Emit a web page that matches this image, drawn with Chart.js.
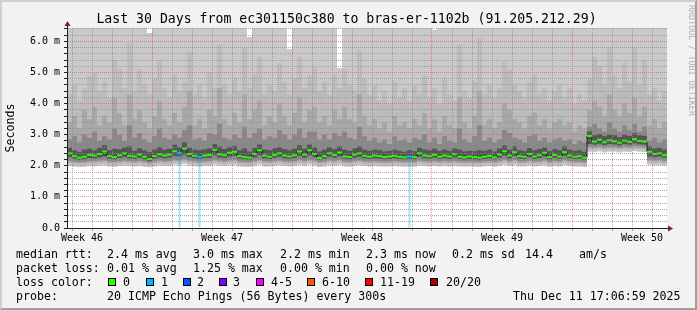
<!DOCTYPE html>
<html>
<head>
<meta charset="utf-8">
<script src="https://cdn.jsdelivr.net/npm/chart.js@4.4.1/dist/chart.umd.min.js"></script>
<style>
    html, body { margin: 0; padding: 0; }
    body {
        width: 697px; height: 310px; position: relative; overflow: hidden;
        background: #f2f2f2; color: #000;
        font-family: "DejaVu Sans Mono", monospace;
    }
    #chart { position: absolute; left: 0; top: 0; }
    .frame {
        position: absolute; left: 0; top: 0; width: 697px; height: 310px;
        box-sizing: border-box; border: 2px solid;
        border-color: #cfcfcf #9e9e9e #9e9e9e #cfcfcf; pointer-events: none;
    }
    .title { position: absolute; left: 0; width: 693px; top: 11px; text-align: center; font-size: 13.2px; line-height: 16px; white-space: pre; }
    .mark { position: absolute; left: 696px; top: 5px; font-size: 8.4px; line-height: 9px; color: rgba(0,0,0,0.3); white-space: pre; transform: rotate(90deg); transform-origin: 0 0; }
    .t { position: absolute; font-size: 11.6px; line-height: 14px; white-space: pre; }
    .box { position: absolute; width: 6px; height: 6px; border: 1px solid #000; }
</style>
</head>
<body>
<canvas id="chart" width="697" height="310"></canvas>
<div class="title">Last 30 Days from ec301150c380 to bras-er-1102b (91.205.212.29)</div>
<div class="mark">RRDTOOL / TOBI OETIKER</div>
<div id="legend"></div>
<div class="frame"></div>
<script>
// 120 columns, 6 hours each, over the last 30 days (values in ms)
const medianRtt = [
    2.40, 2.31, 2.26, 2.29, 2.35, 2.33, 2.38, 2.46, 2.31, 2.28,
    2.34, 2.40, 2.32, 2.30, 2.36, 2.29, 2.22, 2.31, 2.37, 2.33,
    2.36, 2.47, 2.42, 2.55, 2.38, 2.32, 2.29, 2.33, 2.35, 2.51,
    2.37, 2.34, 2.42, 2.45, 2.31, 2.28, 2.26, 2.38, 2.50, 2.33,
    2.29, 2.35, 2.40, 2.33, 2.30, 2.34, 2.46, 2.36, 2.50, 2.38,
    2.25, 2.31, 2.40, 2.35, 2.43, 2.30, 2.28, 2.36, 2.40, 2.32,
    2.29, 2.33, 2.31, 2.28, 2.30, 2.32, 2.29, 2.27, 2.30, 2.28,
    2.40, 2.33, 2.31, 2.35, 2.29, 2.33, 2.30, 2.37, 2.29, 2.27,
    2.30, 2.28, 2.26, 2.29, 2.32, 2.27, 2.36, 2.47, 2.33, 2.44,
    2.31, 2.29, 2.38, 2.30, 2.34, 2.42, 2.28, 2.35, 2.30, 2.44,
    2.33, 2.29, 2.31, 2.26, 2.96, 2.78, 2.84, 2.76, 2.82, 2.79,
    2.74, 2.81, 2.77, 2.86, 2.80, 2.78, 2.45, 2.38, 2.40, 2.34
]
const lossCount = [
    0, 0, 0, 0, 0, 0, 0, 0, 0, 0,  0, 0, 0, 0, 0, 0, 0, 0, 0, 0,
    0, 0, 1, 0, 0, 0, 1, 0, 0, 0,  0, 0, 0, 0, 0, 0, 0, 0, 0, 0,
    0, 0, 0, 0, 0, 0, 0, 0, 0, 0,  0, 0, 0, 0, 0, 0, 0, 0, 0, 0,
    0, 0, 0, 0, 0, 0, 0, 0, 1, 0,  0, 0, 0, 0, 0, 0, 0, 0, 0, 0,
    0, 0, 0, 0, 0, 0, 0, 0, 0, 0,  0, 0, 0, 0, 0, 0, 0, 0, 0, 0,
    0, 0, 0, 0, 0, 0, 0, 0, 0, 0,  0, 0, 0, 0, 0, 0, 0, 0, 0, 0
]
const minRtt = [
    1.99, 1.98, 1.96, 1.97, 1.99, 1.98, 2.00, 2.01, 1.98, 1.97,
    1.99, 2.00, 1.99, 1.98, 1.99, 1.97, 1.95, 1.98, 2.00, 1.99,
    1.99, 2.03, 2.01, 2.05, 2.00, 1.99, 1.97, 1.99, 1.99, 2.03,
    2.00, 1.99, 2.01, 2.02, 1.98, 1.97, 1.96, 1.99, 2.03, 1.98,
    1.98, 1.99, 2.01, 1.99, 1.98, 1.99, 2.02, 1.99, 2.03, 2.00,
    1.96, 1.98, 2.01, 1.99, 2.02, 1.98, 1.97, 1.99, 2.01, 1.99,
    1.98, 1.99, 1.98, 1.97, 1.98, 1.99, 1.98, 1.97, 1.98, 1.97,
    2.00, 1.99, 1.98, 1.99, 1.98, 1.99, 1.98, 1.99, 1.98, 1.97,
    1.98, 1.97, 1.96, 1.98, 1.99, 1.97, 1.99, 2.03, 1.99, 2.02,
    1.98, 1.98, 2.00, 1.98, 1.99, 2.01, 1.97, 1.99, 1.98, 2.02,
    1.99, 1.98, 1.98, 1.96, 2.45, 2.44, 2.46, 2.43, 2.45, 2.45,
    2.43, 2.45, 2.44, 2.47, 2.45, 2.44, 2.03, 2.01, 2.02, 2.00
]
const maxRtt = [
    6.5, 6.5, 6.5, 6.5, 6.5, 6.5, 6.5, 6.5, 6.5, 6.5,
    6.5, 6.5, 6.5, 6.5, 6.5, 6.5, 6.27, 6.5, 6.5, 6.5,
    6.5, 6.5, 6.5, 6.5, 6.5, 6.5, 6.5, 6.5, 6.5, 6.5,
    6.5, 6.5, 6.5, 6.5, 6.5, 6.5, 6.14, 6.5, 6.5, 6.5,
    6.5, 6.5, 6.5, 6.5, 5.75, 6.5, 6.5, 6.5, 6.5, 6.5,
    6.5, 6.5, 6.5, 6.5, 5.14, 6.5, 6.5, 6.5, 6.5, 6.5,
    6.5, 6.5, 6.5, 6.5, 6.5, 6.5, 6.5, 6.5, 6.5, 6.5,
    6.5, 6.5, 6.5, 6.37, 6.5, 6.5, 6.5, 6.5, 6.5, 6.5,
    6.5, 6.5, 6.5, 6.5, 6.5, 6.5, 6.5, 6.5, 6.5, 6.5,
    6.5, 6.5, 6.5, 6.5, 6.5, 6.5, 6.5, 6.5, 6.5, 6.5,
    6.5, 6.5, 6.5, 6.5, 6.5, 6.5, 6.5, 6.5, 6.5, 6.5,
    6.5, 6.5, 6.5, 6.5, 6.5, 6.5, 6.5, 6.5, 6.5, 6.5
]
const p10Lo = [
    2.05, 2.04, 2.02, 2.03, 2.05, 2.04, 2.06, 2.07, 2.04, 2.03,
    2.05, 2.06, 2.05, 2.04, 2.05, 2.03, 2.01, 2.04, 2.06, 2.05,
    2.05, 2.09, 2.07, 2.11, 2.06, 2.05, 2.03, 2.05, 2.05, 2.09,
    2.06, 2.05, 2.07, 2.08, 2.04, 2.03, 2.02, 2.05, 2.09, 2.04,
    2.04, 2.05, 2.07, 2.05, 2.04, 2.05, 2.08, 2.05, 2.09, 2.06,
    2.02, 2.04, 2.07, 2.05, 2.08, 2.04, 2.03, 2.05, 2.07, 2.05,
    2.04, 2.05, 2.04, 2.03, 2.04, 2.05, 2.04, 2.03, 2.04, 2.03,
    2.06, 2.05, 2.04, 2.05, 2.04, 2.05, 2.04, 2.05, 2.04, 2.03,
    2.04, 2.03, 2.02, 2.04, 2.05, 2.03, 2.05, 2.09, 2.05, 2.08,
    2.04, 2.04, 2.06, 2.04, 2.05, 2.07, 2.03, 2.05, 2.04, 2.08,
    2.05, 2.04, 2.04, 2.02, 2.51, 2.50, 2.52, 2.49, 2.51, 2.51,
    2.49, 2.51, 2.50, 2.53, 2.51, 2.50, 2.09, 2.07, 2.08, 2.06
]
const p90Hi = [
    4.3, 4.6, 4.1, 4.5, 4.9, 5.0, 4.4, 4.7, 4.2, 5.4,
    5.1, 4.5, 5.95, 4.4, 5.1, 4.6, 4.3, 4.8, 5.4, 4.5,
    4.2, 4.9, 4.4, 4.7, 5.65, 4.3, 4.6, 4.2, 5.0, 4.5,
    5.9, 4.6, 4.3, 4.8, 4.4, 5.8, 4.5, 4.9, 5.5, 4.3,
    4.6, 4.4, 5.3, 4.7, 4.3, 4.8, 5.5, 4.5, 4.9, 5.2,
    4.4, 4.7, 4.3, 4.9, 4.5, 5.1, 4.6, 4.4, 5.7, 4.8,
    4.3, 4.6, 4.1, 4.4, 4.0, 4.7, 4.2, 4.5, 4.1, 4.6,
    4.3, 4.9, 4.2, 4.5, 4.0, 4.8, 4.3, 4.1, 5.9, 4.4,
    4.2, 4.7, 6.1, 4.3, 4.6, 4.2, 4.5, 5.35, 5.1, 4.6,
    4.4, 4.2, 4.7, 4.9, 4.3, 4.5, 4.1, 4.4, 4.6, 4.2,
    4.5, 4.0, 4.3, 4.1, 4.8, 5.5, 5.2, 4.6, 5.8, 4.9,
    4.5, 5.3, 4.7, 5.8, 4.6, 5.4, 4.3, 4.5, 4.1, 4.4
]
const p25Lo = [
    2.11, 2.09, 2.07, 2.08, 2.10, 2.10, 2.12, 2.13, 2.09, 2.08,
    2.10, 2.12, 2.10, 2.09, 2.11, 2.08, 2.05, 2.09, 2.12, 2.10,
    2.11, 2.15, 2.13, 2.17, 2.12, 2.10, 2.08, 2.10, 2.11, 2.15,
    2.12, 2.10, 2.13, 2.14, 2.09, 2.08, 2.07, 2.11, 2.15, 2.10,
    2.09, 2.11, 2.13, 2.10, 2.09, 2.10, 2.14, 2.11, 2.15, 2.12,
    2.07, 2.09, 2.13, 2.11, 2.14, 2.09, 2.08, 2.11, 2.13, 2.10,
    2.09, 2.10, 2.09, 2.08, 2.09, 2.10, 2.09, 2.08, 2.09, 2.08,
    2.12, 2.10, 2.09, 2.11, 2.09, 2.10, 2.09, 2.11, 2.09, 2.08,
    2.09, 2.08, 2.07, 2.09, 2.10, 2.08, 2.11, 2.15, 2.10, 2.14,
    2.09, 2.09, 2.12, 2.09, 2.10, 2.13, 2.08, 2.11, 2.09, 2.14,
    2.10, 2.09, 2.09, 2.07, 2.57, 2.56, 2.58, 2.55, 2.57, 2.57,
    2.54, 2.57, 2.56, 2.59, 2.57, 2.56, 2.15, 2.13, 2.14, 2.11
]
const p75Hi = [
    3.4, 3.6, 3.2, 3.8, 3.5, 3.9, 3.3, 3.6, 3.4, 4.2,
    3.7, 3.3, 4.3, 3.5, 3.8, 3.4, 3.2, 3.6, 4.1, 3.5,
    3.3, 3.7, 3.4, 3.9, 4.4, 3.3, 3.5, 3.2, 3.8, 3.6,
    4.5, 3.5, 3.3, 3.7, 3.4, 4.3, 3.5, 3.8, 4.1, 3.3,
    3.6, 3.4, 4.0, 3.6, 3.3, 3.7, 4.2, 3.4, 3.8, 3.9,
    3.4, 3.6, 3.3, 3.8, 3.5, 3.9, 3.5, 3.4, 4.3, 3.6,
    3.3, 3.5, 3.2, 3.4, 3.1, 3.6, 3.3, 3.4, 3.2, 3.5,
    3.3, 3.7, 3.2, 3.5, 3.1, 3.6, 3.3, 3.2, 4.2, 3.4,
    3.2, 3.6, 4.4, 3.3, 3.5, 3.2, 3.4, 4.0, 3.8, 3.5,
    3.4, 3.2, 3.6, 3.7, 3.3, 3.5, 3.2, 3.4, 3.5, 3.3,
    3.4, 3.1, 3.3, 3.2, 3.8, 4.1, 3.9, 3.6, 4.3, 3.8,
    3.6, 4.0, 3.7, 4.2, 3.6, 3.9, 3.3, 3.5, 3.2, 3.4
]
const p35Lo = [
    2.16, 2.14, 2.12, 2.13, 2.15, 2.15, 2.17, 2.18, 2.14, 2.13,
    2.15, 2.17, 2.15, 2.14, 2.16, 2.13, 2.10, 2.14, 2.17, 2.15,
    2.16, 2.20, 2.18, 2.22, 2.17, 2.15, 2.13, 2.15, 2.16, 2.20,
    2.17, 2.15, 2.18, 2.19, 2.14, 2.13, 2.12, 2.16, 2.20, 2.15,
    2.14, 2.16, 2.18, 2.15, 2.14, 2.15, 2.19, 2.16, 2.20, 2.17,
    2.12, 2.14, 2.18, 2.16, 2.19, 2.14, 2.13, 2.16, 2.18, 2.15,
    2.14, 2.15, 2.14, 2.13, 2.14, 2.15, 2.14, 2.13, 2.14, 2.13,
    2.17, 2.15, 2.14, 2.16, 2.14, 2.15, 2.14, 2.16, 2.14, 2.13,
    2.14, 2.13, 2.12, 2.14, 2.15, 2.13, 2.16, 2.20, 2.15, 2.19,
    2.14, 2.14, 2.17, 2.14, 2.15, 2.18, 2.13, 2.16, 2.14, 2.19,
    2.15, 2.14, 2.14, 2.12, 2.62, 2.61, 2.63, 2.60, 2.62, 2.62,
    2.59, 2.62, 2.61, 2.64, 2.62, 2.61, 2.20, 2.18, 2.19, 2.16
]
const p65Hi = [
    2.85, 2.95, 2.75, 3.00, 2.90, 3.10, 2.80, 2.95, 2.85, 3.20,
    3.00, 2.80, 3.30, 2.90, 3.05, 2.85, 2.75, 2.95, 3.20, 2.90,
    2.85, 3.00, 2.90, 3.15, 3.30, 2.85, 2.90, 2.80, 3.05, 3.00,
    3.35, 2.90, 2.85, 3.00, 2.90, 3.25, 2.90, 3.05, 3.20, 2.85,
    2.95, 2.90, 3.15, 3.00, 2.85, 3.00, 3.20, 2.90, 3.10, 3.10,
    2.85, 3.00, 2.85, 3.05, 2.95, 3.10, 2.90, 2.85, 3.25, 2.95,
    2.80, 2.90, 2.75, 2.85, 2.70, 2.95, 2.80, 2.85, 2.75, 2.90,
    2.85, 3.00, 2.75, 2.90, 2.70, 2.95, 2.80, 2.75, 3.20, 2.85,
    2.75, 2.95, 3.30, 2.80, 2.90, 2.75, 2.85, 3.15, 3.05, 2.90,
    2.85, 2.75, 2.95, 3.00, 2.80, 2.90, 2.75, 2.85, 2.90, 2.80,
    2.85, 2.70, 2.80, 2.75, 3.25, 3.35, 3.20, 3.10, 3.40, 3.20,
    3.10, 3.30, 3.15, 3.35, 3.10, 3.25, 2.80, 2.90, 2.75, 2.85
]
const p45Lo = [
    2.28, 2.23, 2.19, 2.21, 2.25, 2.24, 2.27, 2.30, 2.23, 2.21,
    2.25, 2.28, 2.24, 2.22, 2.26, 2.21, 2.16, 2.23, 2.27, 2.24,
    2.26, 2.32, 2.30, 2.36, 2.28, 2.24, 2.21, 2.25, 2.26, 2.34,
    2.27, 2.25, 2.30, 2.32, 2.23, 2.21, 2.19, 2.27, 2.34, 2.24,
    2.22, 2.26, 2.29, 2.24, 2.22, 2.25, 2.32, 2.26, 2.34, 2.28,
    2.19, 2.23, 2.29, 2.26, 2.31, 2.23, 2.21, 2.26, 2.29, 2.24,
    2.22, 2.24, 2.23, 2.21, 2.22, 2.24, 2.22, 2.20, 2.22, 2.21,
    2.29, 2.24, 2.23, 2.26, 2.22, 2.24, 2.22, 2.27, 2.22, 2.20,
    2.22, 2.21, 2.19, 2.22, 2.24, 2.20, 2.26, 2.33, 2.24, 2.32,
    2.23, 2.22, 2.28, 2.22, 2.25, 2.30, 2.21, 2.26, 2.23, 2.32,
    2.25, 2.22, 2.23, 2.19, 2.70, 2.68, 2.71, 2.67, 2.70, 2.69,
    2.66, 2.70, 2.68, 2.72, 2.69, 2.68, 2.30, 2.28, 2.30, 2.26
]
const p55Hi = [
    2.58, 2.50, 2.45, 2.52, 2.55, 2.50, 2.58, 2.66, 2.50, 2.55,
    2.53, 2.60, 2.62, 2.48, 2.56, 2.50, 2.44, 2.52, 2.60, 2.52,
    2.55, 2.68, 2.60, 2.75, 2.58, 2.52, 2.50, 2.53, 2.56, 2.70,
    2.62, 2.54, 2.60, 2.64, 2.50, 2.56, 2.46, 2.58, 2.68, 2.52,
    2.50, 2.56, 2.60, 2.54, 2.50, 2.55, 2.66, 2.55, 2.68, 2.60,
    2.46, 2.52, 2.60, 2.54, 2.62, 2.52, 2.48, 2.56, 2.62, 2.52,
    2.48, 2.52, 2.50, 2.46, 2.48, 2.52, 2.48, 2.45, 2.50, 2.47,
    2.58, 2.52, 2.50, 2.55, 2.48, 2.52, 2.48, 2.56, 2.52, 2.46,
    2.48, 2.47, 2.50, 2.48, 2.52, 2.46, 2.56, 2.65, 2.52, 2.63,
    2.50, 2.48, 2.57, 2.50, 2.54, 2.60, 2.47, 2.54, 2.50, 2.62,
    2.52, 2.48, 2.50, 2.45, 3.10, 2.98, 3.02, 2.95, 3.00, 2.98,
    2.92, 3.00, 2.96, 3.05, 2.98, 2.96, 2.62, 2.56, 2.58, 2.52
]

const weekLabels = ['Week 46', 'Week 47', 'Week 48', 'Week 49', 'Week 50']
const weekLabelDays = [0.75, 7.75, 14.75, 21.75, 28.75]
const weekStartDays = [4.25, 11.25, 18.25, 25.25]

const lossLegend = [
    {label: '0', color: '#26ff00'},
    {label: '1', color: '#00b8ff'},
    {label: '2', color: '#0059ff'},
    {label: '3', color: '#7e00ff'},
    {label: '4-5', color: '#ff00ff'},
    {label: '6-10', color: '#ff5500'},
    {label: '11-19', color: '#ff0000'},
    {label: '20/20', color: '#a10000'}
]

const FONT = 'DejaVu Sans Mono'
const colDays = 0.25
const colX = medianRtt.map((v, i) => (i + 0.5) * colDays)

const dayTicks = []
for (let d = 0.25; d < 30; d += 1) dayTicks.push(d)
const xTicks = dayTicks.concat(weekLabelDays).sort((a, b) => a - b)
const yTicks = []
for (let k = 0; k <= 32; k++) yTicks.push(Math.round(k * 2) / 10)

const isWeekStart = (v) => weekStartDays.some((w) => Math.abs(w - v) < 1e-6)
const isLabelTick = (v) => weekLabelDays.some((w) => Math.abs(w - v) < 1e-6)
const isWhole = (v) => Math.abs(v - Math.round(v)) < 1e-6

const GRID = 'rgba(143,143,143,0.75)'
const MGRID = 'rgba(222,79,79,0.6)'
const NONE = 'rgba(0,0,0,0)'

const lossColor = (n) => n === 0 ? lossLegend[0].color : lossLegend[Math.min(n, 3)].color

function band(lo, hi, color, order) {
    return {
        type: 'bar',
        data: colX.map((x, i) => ({x, y: [lo[i], hi[i]]})),
        backgroundColor: color,
        borderWidth: 0,
        inflateAmount: 0,
        grouped: false,
        barPercentage: 1,
        categoryPercentage: 1,
        clip: 0,
        order
    }
}

const medianPoints = colX.map((x, i) => ({x, y: medianRtt[i]}))
const lossBars = colX
    .map((x, i) => lossCount[i] > 0 ? {x, y: [0, medianRtt[i]]} : null)
    .filter((p) => p)

const axisArrows = {
    id: 'axisArrows',
    afterDraw(chart) {
        const {ctx, chartArea: a} = chart
        const x0 = Math.round(a.left) + 0.5
        const y0 = Math.round(a.bottom) + 0.5
        ctx.save()
        ctx.strokeStyle = '#1f1f1f'
        ctx.lineWidth = 1
        ctx.beginPath()
        ctx.moveTo(x0, a.top)
        ctx.lineTo(x0, a.top - 3)
        ctx.moveTo(a.right, y0)
        ctx.lineTo(a.right + 2, y0)
        ctx.stroke()
        ctx.fillStyle = '#801f1f'
        ctx.beginPath()
        ctx.moveTo(x0 - 3, a.top - 2)
        ctx.lineTo(x0 + 3, a.top - 2)
        ctx.lineTo(x0, a.top - 7)
        ctx.closePath()
        ctx.fill()
        ctx.beginPath()
        ctx.moveTo(a.right + 1, y0 - 3)
        ctx.lineTo(a.right + 1, y0 + 3)
        ctx.lineTo(a.right + 6, y0)
        ctx.closePath()
        ctx.fill()
        ctx.restore()
    }
}

const canvasBack = {
    id: 'canvasBack',
    beforeDraw(chart) {
        const {ctx, chartArea: a} = chart
        ctx.save()
        ctx.fillStyle = '#ffffff'
        ctx.fillRect(a.left, a.top, a.right - a.left, a.bottom - a.top)
        ctx.restore()
    }
}

new Chart(document.getElementById('chart'), {
    type: 'bar',
    data: {
        datasets: [
            band(minRtt, maxRtt, '#c9c9c9', 10),
            band(p10Lo, p90Hi, '#bcbcbc', 9),
            band(p25Lo, p75Hi, '#a8a8a8', 8),
            band(p35Lo, p65Hi, '#888888', 7),
            band(p45Lo, p55Hi, '#555555', 6),
            {
                type: 'bar',
                data: lossBars,
                backgroundColor: 'rgba(0,184,255,0.38)',
                borderWidth: 0,
                grouped: false,
                maxBarThickness: 2,
                clip: 0,
                order: 5
            },
            {
                type: 'line',
                data: medianPoints,
                stepped: 'middle',
                borderColor: '#1a1a1a',
                borderWidth: 1,
                pointRadius: 0,
                order: 2
            },
            {
                type: 'line',
                data: medianPoints,
                showLine: false,
                pointStyle: 'line',
                pointRadius: 2.5,
                pointBorderWidth: 2,
                pointBorderColor: (ctx) => lossColor(lossCount[ctx.dataIndex] || 0),
                order: 1
            }
        ]
    },
    options: {
        responsive: false,
        animation: false,
        devicePixelRatio: 1,
        events: [],
        layout: {padding: {left: 0, right: 30, top: 28, bottom: 62}},
        plugins: {
            legend: {display: false},
            tooltip: {enabled: false},
            title: {display: false}
        },
        scales: {
            x: {
                type: 'linear',
                min: 0,
                max: 30,
                offset: false,
                afterBuildTicks: (scale) => {
                    scale.ticks = xTicks.map((v) => ({value: v}))
                },
                afterFit: (scale) => {
                    scale.height = 20
                },
                ticks: {
                    autoSkip: false,
                    maxRotation: 0,
                    minRotation: 0,
                    padding: 1,
                    color: '#000',
                    font: {family: FONT, size: 10},
                    callback: (v) => {
                        const k = weekLabelDays.findIndex((w) => Math.abs(w - v) < 1e-6)
                        return k >= 0 ? weekLabels[k] : ''
                    }
                },
                grid: {
                    z: 1,
                    offset: false,
                    lineWidth: 1,
                    tickLength: 3,
                    color: (ctx) => {
                        const v = ctx.tick && ctx.tick.value
                        if (v === undefined || isLabelTick(v)) return NONE
                        return isWeekStart(v) ? MGRID : GRID
                    },
                    tickColor: (ctx) => {
                        const v = ctx.tick && ctx.tick.value
                        if (v === undefined || isLabelTick(v)) return NONE
                        return isWeekStart(v) ? MGRID : GRID
                    }
                },
                border: {z: 1, color: '#1f1f1f', width: 1, dash: [1, 1]}
            },
            y: {
                type: 'linear',
                min: 0,
                max: 6.43,
                afterBuildTicks: (scale) => {
                    scale.ticks = yTicks.map((v) => ({value: v}))
                },
                afterFit: (scale) => {
                    scale.width = 67
                },
                ticks: {
                    autoSkip: false,
                    padding: 4,
                    color: '#000',
                    font: {family: FONT, size: 10},
                    callback: (v) => {
                        if (!isWhole(v)) return ''
                        return v === 0 ? '0.0' : v.toFixed(1) + ' m'
                    }
                },
                grid: {
                    z: 1,
                    lineWidth: 1,
                    tickLength: 3,
                    color: (ctx) => {
                        const v = ctx.tick && ctx.tick.value
                        if (v === undefined || v === 0) return NONE
                        return isWhole(v) ? MGRID : GRID
                    },
                    tickColor: '#1f1f1f'
                },
                border: {z: 1, color: '#1f1f1f', width: 1, dash: [1, 1]},
                title: {
                    display: true,
                    text: 'Seconds',
                    color: '#000',
                    font: {family: FONT, size: 11.6},
                    padding: {top: 4, bottom: 0}
                }
            }
        }
    },
    plugins: [canvasBack, axisArrows]
})

// legend lines under the graph
const legendRows = [
    {top: 247, items: [[16, 'median rtt:'], [107, '2.4 ms avg'], [193, '3.0 ms max'], [280, '2.2 ms min'], [366, '2.3 ms now'], [452, '0.2 ms sd'], [525, '14.4'], [579, 'am/s']]},
    {top: 261, items: [[16, 'packet loss:'], [107, '0.01 % avg'], [193, '1.25 % max'], [280, '0.00 % min'], [366, '0.00 % now']]},
    {top: 275, items: [[16, 'loss color:']]},
    {top: 289, items: [[16, 'probe:'], [107, '20 ICMP Echo Pings (56 Bytes) every 300s'], [513, 'Thu Dec 11 17:06:59 2025']]}
]
const lossBoxX = [108, 146, 183, 219, 256, 307, 365, 430]
const lossTextX = [123, 161, 197, 233, 271, 322, 380, 446]

const legend = document.getElementById('legend')
legendRows.forEach((row) => {
    row.items.forEach(([x, text]) => {
        const el = document.createElement('div')
        el.className = 't'
        el.style.left = x + 'px'
        el.style.top = row.top + 'px'
        el.textContent = text
        legend.appendChild(el)
    })
})
lossLegend.forEach((entry, i) => {
    const box = document.createElement('div')
    box.className = 'box'
    box.style.left = lossBoxX[i] + 'px'
    box.style.top = '278px'
    box.style.background = entry.color
    legend.appendChild(box)
    const el = document.createElement('div')
    el.className = 't'
    el.style.left = lossTextX[i] + 'px'
    el.style.top = '275px'
    el.textContent = entry.label
    legend.appendChild(el)
})
</script>
</body>
</html>
